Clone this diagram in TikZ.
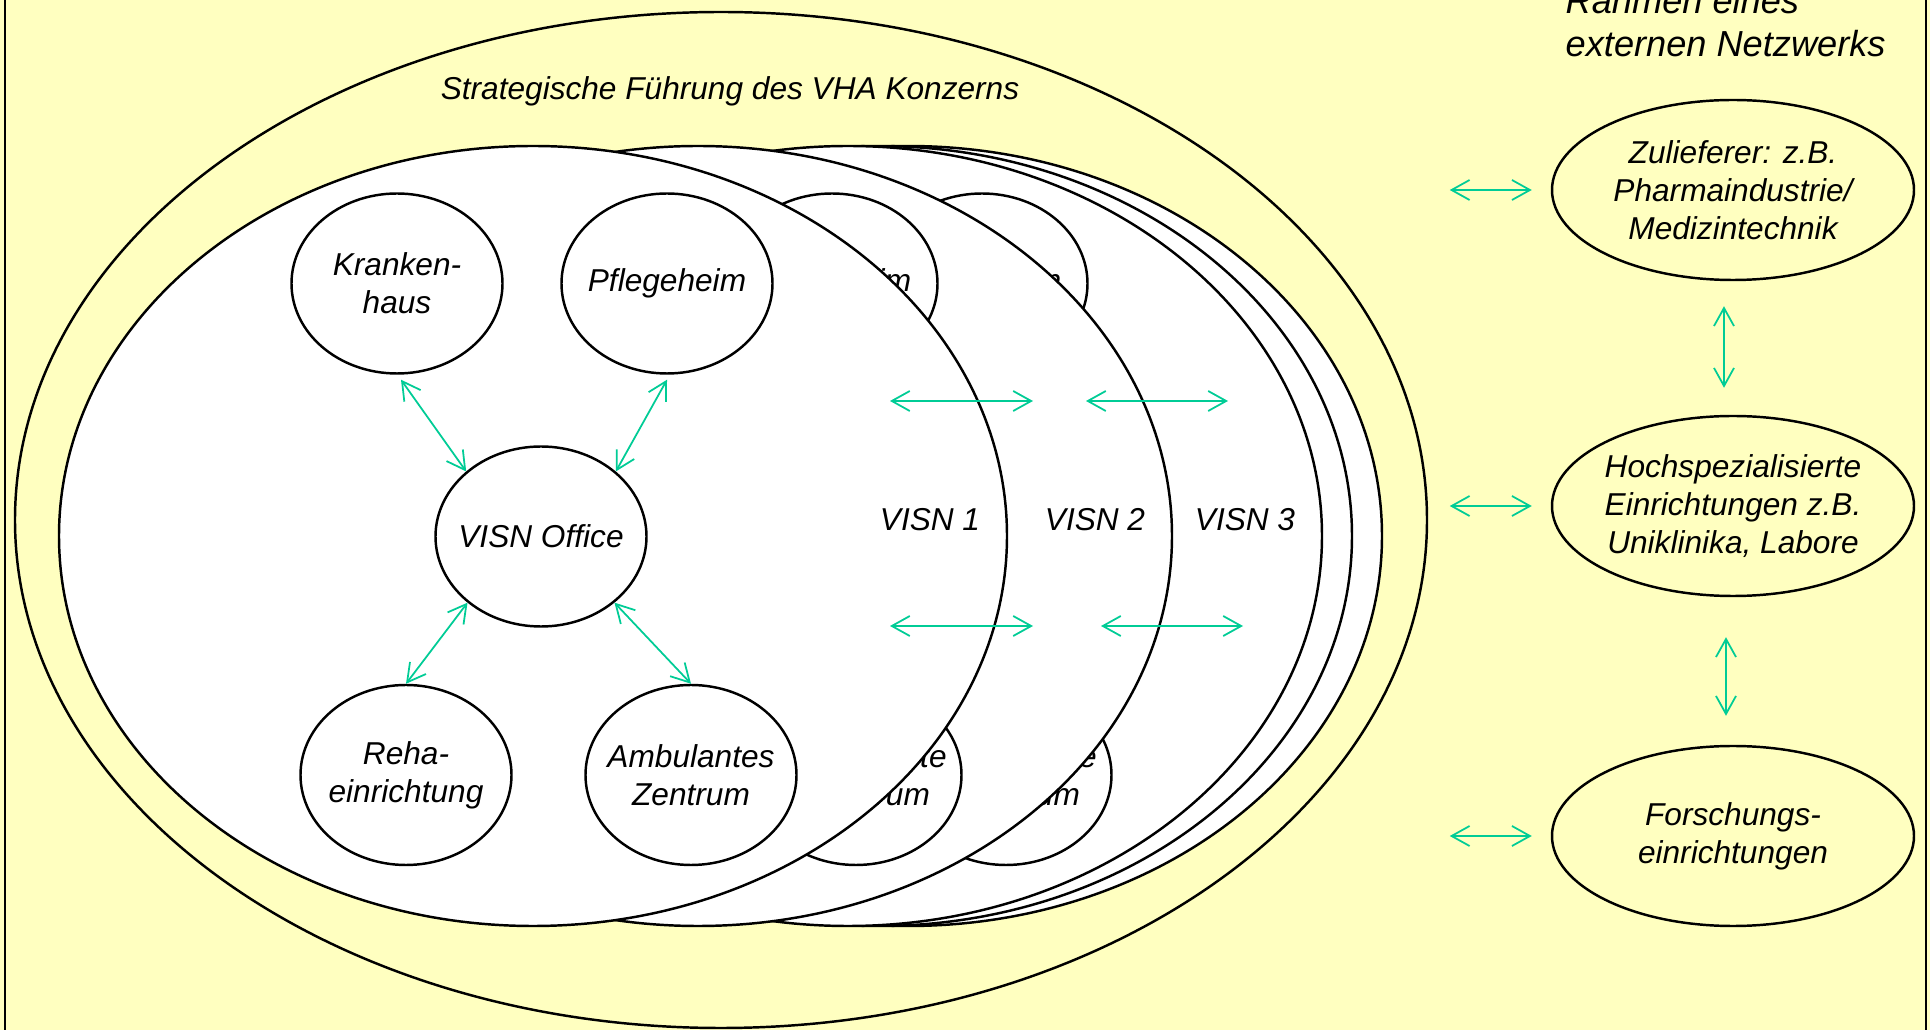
\documentclass[tikz,border=0pt]{standalone}
\usepackage{fontspec}
\setmainfont{Liberation Sans}
\usetikzlibrary{positioning,shapes.geometric,arrows.meta}

\definecolor{paleyellow}{RGB}{255,255,192}
\definecolor{linkgreen}{RGB}{0,204,150}

\begin{document}
\begin{tikzpicture}[every node/.style={font=\fontsize{9}{10.8}\selectfont\itshape,align=center,inner sep=0pt},on grid,
    unit/.style={draw,ellipse,fill=white,line width=0.7pt,inner xsep=-0.5cm,minimum width=2.11cm,minimum height=1.80cm},
    partner/.style={draw,ellipse,fill=paleyellow,line width=0.7pt,inner xsep=-0.5cm,minimum width=3.62cm,minimum height=1.80cm},
    visn/.style={draw,fill=white,line width=0.7pt},
    link/.style={draw=linkgreen,line width=0.5pt,{Straight Barb[length=1.8mm,width=2mm]}-{Straight Barb[length=1.8mm,width=2mm]}}]

    \useasboundingbox (0,0) rectangle (19.30,10.30);
    \fill[paleyellow] (0,0) rectangle (19.30,10.30); %background
    \draw[line width=0.5pt] (0.05,-0.5) rectangle (19.26,10.8); %frame

    % VHA Konzern
    \draw[line width=0.7pt,fill=paleyellow] (7.21,5.10) ellipse [x radius=7.06, y radius=5.08];
    \node (title) at (7.30,9.39) {Strategische Führung des VHA Konzerns};

    % VISN stack, back to front
    \foreach \cx in {9.08,8.78}
      \draw[visn] (\cx,4.94) ellipse [x radius=4.74, y radius=3.90];

    \foreach \i/\dx in {3/3.15,2/1.65} {
      \draw[visn] ({5.33+\dx},4.94) ellipse [x radius=4.74, y radius=3.90];
      \node[unit] (pf\i) at ({6.67+\dx},7.465) {Pflegeheim};
      \node[unit] (az\i) at ({6.91+\dx},2.55) {\hspace*{0.3cm}Ambulante\\\hspace*{0.3cm}Zentrum};
    }

    \draw[visn] (5.33,4.94) ellipse [x radius=4.74, y radius=3.90]; %VISN 1
    \node[unit] (vo) at (5.41,4.935) {VISN Office};
    \node[unit,above left=2.53 and 1.44 of vo] (kh) {Kranken-\\haus};
    \node[unit,above right=2.53 and 1.26 of vo] (pf) {Pflegeheim};
    \node[unit,below left=2.385 and 1.35 of vo] (rh) {Reha-\\einrichtung};
    \node[unit,below right=2.385 and 1.50 of vo] (az) {Ambulantes\\Zentrum};

    \draw[link] ([shift={(0.04,-0.05)}]kh.south) -- (vo.139);
    \draw[link] ([yshift=-0.05cm]pf.south) -- (vo.41);
    \draw[link] (vo.222) -- (rh.north);
    \draw[link] (vo.318) -- (az.north);

    \node (v1) at (9.30,5.10) {VISN 1};
    \node (v2) at (10.95,5.10) {VISN 2};
    \node (v3) at (12.45,5.10) {VISN 3};

    \foreach \i/\xa/\xb/\y in {1/8.90/10.33/6.29,2/10.86/12.28/6.29,3/8.90/10.33/4.04,4/11.01/12.43/4.04} {
      \coordinate (m\i-l) at (\xa,\y);
      \coordinate (m\i-r) at (\xb,\y);
      \draw[link] (m\i-l) -- (m\i-r);
    }

    % external network
    \node[anchor=south west,align=left,font=\fontsize{10.3}{12.3}\selectfont\itshape] (net) at (15.65,9.72) {Rahmen eines\\externen Netzwerks};
    \node[partner] (zl) at (17.33,8.40) {Zulieferer: z.B.\\Pharmaindustrie/\\Medizintechnik};
    \node[partner,below=3.16 of zl] (hs) {Hochspezialisierte\\Einrichtungen z.B.\\Uniklinika, Labore};
    \node[partner,below=3.30 of hs] (fo) {Forschungs-\\einrichtungen};

    \foreach \n in {zl,hs,fo}
      \draw[link] ([xshift=-0.19cm]\n.west) -- ++(-0.82,0);

    \draw[link] ([shift={(-0.09,-0.25)}]zl.south) -- ([shift={(-0.09,0.27)}]hs.north);
    \draw[link] ([shift={(-0.07,-0.40)}]hs.south) -- ([shift={(-0.07,0.29)}]fo.north);
  \end{tikzpicture}
\end{document}
